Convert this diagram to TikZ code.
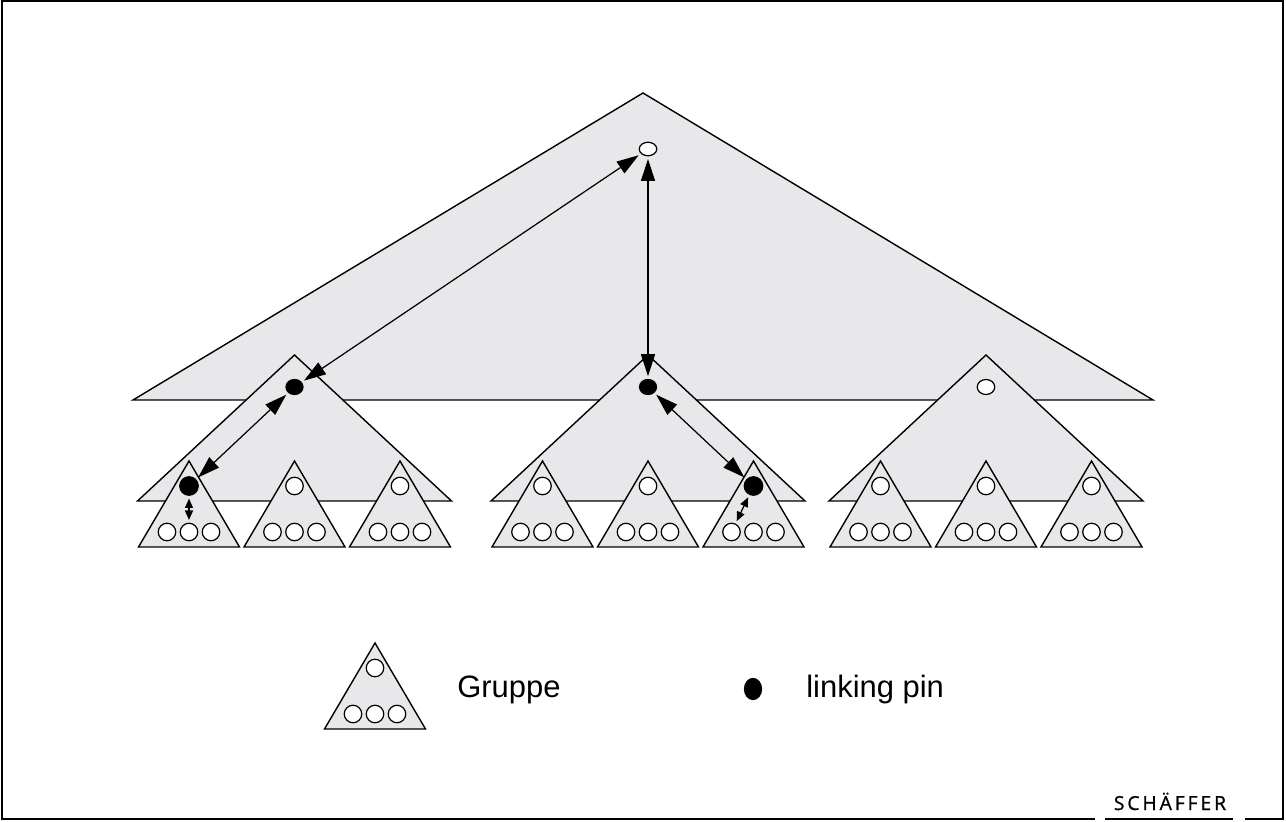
\documentclass[tikz,border=0pt]{standalone}
\usepackage{fontspec}
\setmainfont{Liberation Sans}
\newfontfamily\logofont[LetterSpace=15,FakeBold=1]{Open Sans}
\usetikzlibrary{arrows.meta,shapes.geometric}
\definecolor{groupgray}{RGB}{232,232,234}
\tikzset{
    tri/.style={draw,fill=groupgray,line width=0.8pt,line join=miter},
    member/.style={ellipse,draw,fill=white,line width=0.7pt,inner sep=0pt,
        minimum width=0.35cm,minimum height=0.35cm},
    pin/.style={member,fill=black,minimum width=0.37cm,minimum height=0.37cm},
    link/.style={line width=0.7pt,shorten <=1.5pt,shorten >=1.5pt,
        {Triangle[length=4.4mm,width=2.8mm]}-{Triangle[length=4.4mm,width=2.8mm]}},
    minilink/.style={line width=0.7pt,shorten <=1.5pt,shorten >=1.5pt,
        {Triangle[length=1.9mm,width=1.6mm]}-{Triangle[length=1.9mm,width=1.6mm]}},
    legendtext/.style={anchor=base west,inner sep=0pt,font=\fontsize{17.6}{20}\selectfont},
}
%% small group: [top style]{name}{x of apex}{y of apex}
\newcommand{\gruppe}[4][member]{%
    \draw[tri] (#3,#4) -- ++(1.01,-1.72) -- ++(-2.02,0) -- cycle;
    \node[#1] (#2-t) at (#3,#4-0.5) {};
    \node[member] (#2-b1) at (#3-0.44,#4-1.42) {};
    \node[member] (#2-b2) at (#3,#4-1.42) {};
    \node[member] (#2-b3) at (#3+0.44,#4-1.42) {};
}
\begin{document}
\begin{tikzpicture}
    \useasboundingbox (0,0) rectangle (25.72,16.42);
    %% frame, open at the logo
    \draw[line width=1.1pt] (21.90,0.04) -- (0.04,0.04) -- (0.04,16.40)
        -- (25.66,16.40) -- (25.66,0.04) -- (24.90,0.04);
    \node[anchor=base,inner sep=0pt,font=\fontsize{11}{13}\logofont]
        (logo) at (23.40,0.22) {SCHÄFFER};
    \draw[line width=1.4pt] (22.10,0.04) -- (24.66,0.04);

    %% top level
    \draw[tri] (2.66,8.42) -- (12.86,14.56) -- (23.06,8.42) -- cycle;
    \node[member,minimum height=0.27cm] (top) at (12.96,13.44) {};

    %% middle level
    \foreach \c/\n in {5.89/l,12.96/c,19.72/r}
        \draw[tri] (\c,9.32) -- ++(3.14,-2.92) -- ++(-6.28,0) -- cycle;
    \node[pin,minimum width=0.34cm,minimum height=0.30cm] (l0) at (5.89,8.68) {};
    \node[pin,minimum width=0.34cm,minimum height=0.30cm] (c0) at (12.96,8.68) {};
    \node[member,minimum height=0.30cm] (r0) at (19.72,8.68) {};

    %% lowest level
    \gruppe[pin]{l1}{3.78}{7.20}
    \gruppe{l2}{5.89}{7.20}
    \gruppe{l3}{8.00}{7.20}
    \gruppe{c1}{10.85}{7.20}
    \gruppe{c2}{12.96}{7.20}
    \gruppe[pin]{c3}{15.07}{7.20}
    \gruppe{r1}{17.61}{7.20}
    \gruppe{r2}{19.72}{7.20}
    \gruppe{r3}{21.83}{7.20}

    %% linking pins
    \draw[link] (top) -- (l0);
    \draw[link] (top) -- (c0);
    \draw[link] (l0) -- (l1-t);
    \draw[link] (c0) -- (c3-t);
    \draw[minilink] (l1-t) -- (l1-b2);
    \draw[minilink] (c3-t) -- (c3-b1);

    %% legend
    \gruppe{leg}{7.50}{3.56}
    \node[legendtext] (gtext) at (9.14,2.48) {Gruppe};
    \node[pin,minimum width=0.34cm,minimum height=0.42cm] (legpin) at (15.06,2.64) {};
    \node[legendtext] (ptext) at (16.12,2.48) {linking pin};
\end{tikzpicture}
\end{document}
